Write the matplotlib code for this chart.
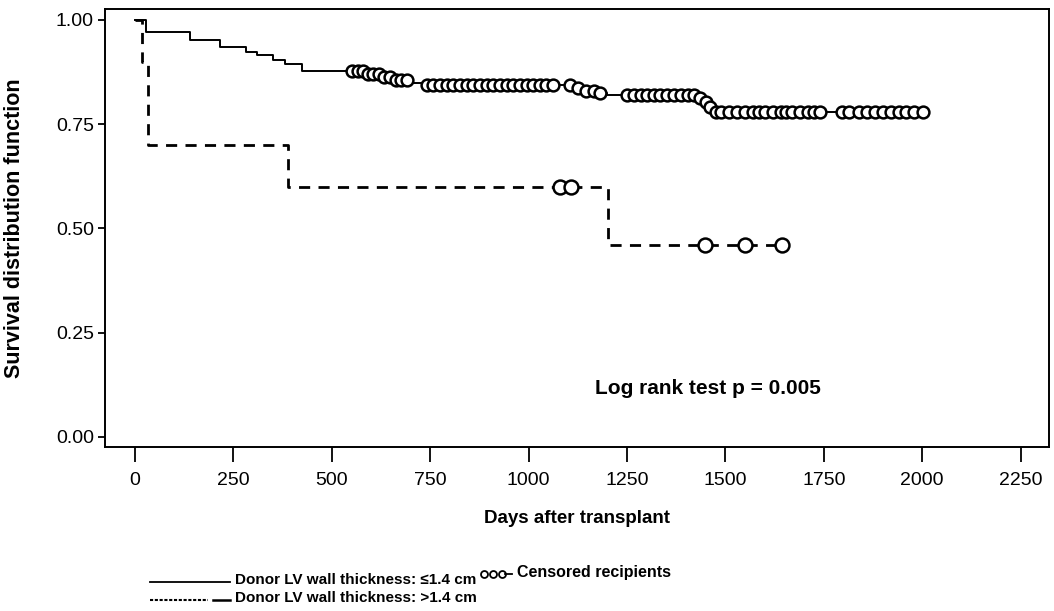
import numpy as np
import matplotlib
matplotlib.use("Agg")
import matplotlib.pyplot as plt
from matplotlib.lines import Line2D

plt.rcParams['font.family'] = ['Liberation Sans', 'DejaVu Sans']

# group 1: donor LV wall thickness <= 1.4 cm (step times and survival after each step)
thin_times = [0, 28, 140, 215, 283, 310, 350, 380, 425, 585, 625, 660, 700, 735,
              1115, 1140, 1170, 1200, 1428, 1442, 1455, 1468]
thin_surv = [1.0, 0.972, 0.952, 0.936, 0.922, 0.916, 0.904, 0.894, 0.878, 0.870,
             0.862, 0.855, 0.848, 0.843, 0.836, 0.830, 0.825, 0.820, 0.812, 0.802,
             0.790, 0.780]
thin_censored = [552, 566, 580, 593, 606, 620, 634, 648, 662, 676, 690,
                 742, 757, 775, 793, 808, 826, 843, 859, 876, 894, 910, 927, 945,
                 960, 978, 996, 1011, 1029, 1045, 1062,
                 1105, 1125, 1145, 1165, 1181,
                 1250, 1268, 1285, 1300, 1318, 1335, 1352, 1370, 1388, 1405, 1420,
                 1435, 1450, 1462,
                 1475, 1490, 1510, 1530, 1550, 1570, 1585, 1600, 1620, 1640, 1655,
                 1670, 1690, 1710, 1725, 1740,
                 1795, 1815, 1840, 1860, 1880, 1900, 1920, 1940, 1960, 1980, 2002]

# group 2: donor LV wall thickness > 1.4 cm
thick_times = [0, 17, 33, 389, 1202]
thick_surv = [1.0, 0.9, 0.7, 0.6, 0.46]
thick_censored = [1080, 1108, 1448, 1550, 1644]

xticks = [0, 250, 500, 750, 1000, 1250, 1500, 1750, 2000, 2250]
yticks = [0.0, 0.25, 0.5, 0.75, 1.0]


def surv_at(times, surv, t):
    idx = np.searchsorted(times, t, side='right') - 1
    return np.asarray(surv)[idx]


fig = plt.figure(figsize=(10.54, 6.11), dpi=100)
ax = fig.add_axes([105 / 1054, 1 - 447 / 611, 944 / 1054, 438 / 611])

# solid curve
tx = thin_times + [max(thin_censored)]
ty = thin_surv + [thin_surv[-1]]
ax.step(tx, ty, where='post', color='black', lw=1.4)
ax.plot(thin_censored, surv_at(thin_times, thin_surv, thin_censored), 'o',
        ms=8.5, mfc='white', mec='black', mew=1.8)

# dashed curve
dx = thick_times + [max(thick_censored)]
dy = thick_surv + [thick_surv[-1]]
ax.step(dx, dy, where='post', color='black', lw=2.0, linestyle=(0, (4, 3)))
ax.plot(thick_censored, surv_at(thick_times, thick_surv, thick_censored), 'o',
        ms=10, mfc='white', mec='black', mew=1.8)

ax.set_xlim(-76, 2322)
ax.set_ylim(-0.024, 1.026)
ax.set_xticks(xticks)
ax.set_xticklabels([str(v) for v in xticks])
ax.set_yticks(yticks)
ax.set_yticklabels(['%.2f' % v for v in yticks])
ax.tick_params(axis='x', direction='out', length=11, width=1.3, labelsize=14, pad=7)
ax.tick_params(axis='y', direction='out', length=5, width=1.3, labelsize=14, pad=3)
for s in ax.spines.values():
    s.set_linewidth(1.4)

ax.set_xlabel('Days after transplant', fontsize=13.5, fontweight='bold', labelpad=15)
ax.set_ylabel('Survival distribution function', fontsize=15.5, fontweight='bold',
              labelpad=22)

ax.text(1456, 0.117, 'Log rank test p = 0.005', fontsize=15, fontweight='bold',
        ha='center', va='center')

# legend under the plot, drawn in figure pixels
def fx(px):
    return px / 1054


def fy(py):
    return 1 - py / 611


fig.add_artist(Line2D([fx(150), fx(230)], [fy(582), fy(582)], color='black', lw=1.3))
fig.add_artist(Line2D([fx(150), fx(208)], [fy(600), fy(600)], color='black', lw=1.5,
                      linestyle=(0, (1.5, 0.8))))
fig.add_artist(Line2D([fx(213), fx(230)], [fy(600), fy(600)], color='black', lw=1.8))
fig.text(fx(235), fy(580), 'Donor LV wall thickness: \u22641.4 cm', fontsize=11,
         fontweight='bold', va='center')
fig.text(fx(235), fy(598), 'Donor LV wall thickness: >1.4 cm', fontsize=11,
         fontweight='bold', va='center')
fig.add_artist(Line2D([fx(484), fx(493), fx(502)], [fy(574)] * 3, linestyle='none',
                      marker='o', ms=5, mfc='white', mec='black', mew=1.3))
fig.add_artist(Line2D([fx(505), fx(512)], [fy(574), fy(574)], color='black', lw=1.3))
fig.text(fx(517), fy(573), 'Censored recipients', fontsize=11.5, fontweight='bold',
         va='center')

fig.savefig('out.png', dpi=100)
